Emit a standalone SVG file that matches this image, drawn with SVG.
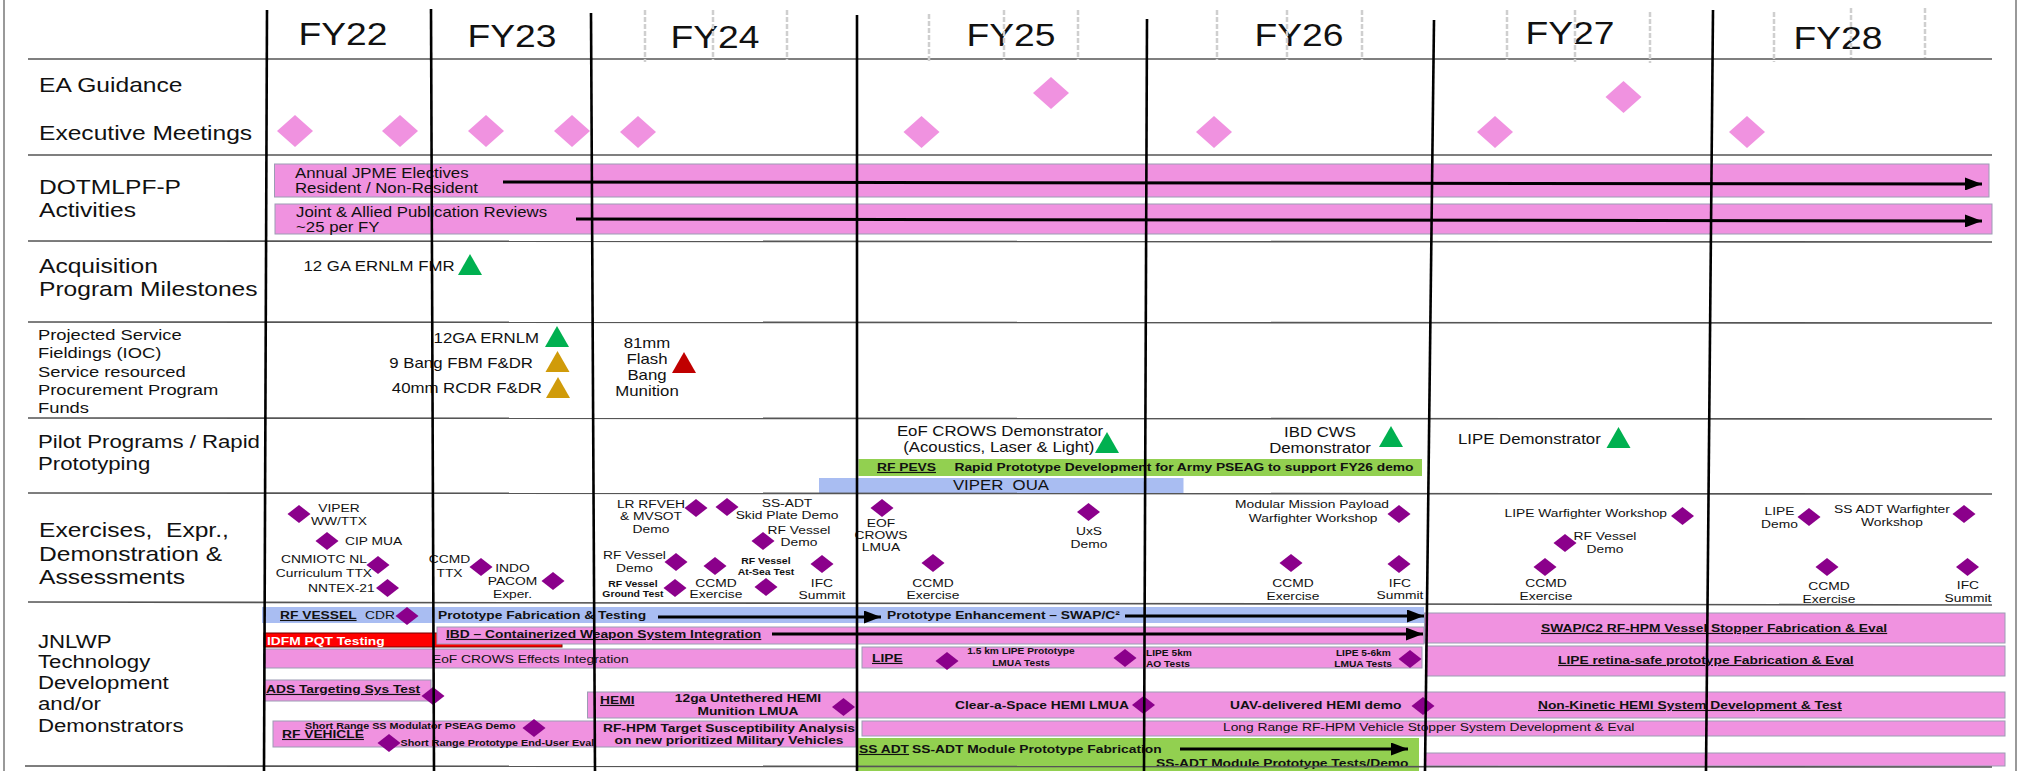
<svg xmlns="http://www.w3.org/2000/svg" width="2021" height="771" viewBox="0 0 2021 771">
<style>
text{font-family:"Liberation Sans",Arial,Helvetica,sans-serif;fill:#111;transform-box:fill-box;transform:scaleX(1.2);transform-origin:0 0}
.m{text-anchor:middle;transform-origin:50% 0}
.e{text-anchor:end;transform-origin:100% 0}
.fy{font-size:31px}
.lab{font-size:20.5px}
.lab2{font-size:18.5px}
.lab3{font-size:15.3px}
.t14{font-size:14px}
.ex{font-size:11.5px}
.bb{font-size:11.5px;font-weight:bold}
.sm{font-size:8.7px;font-weight:bold}
.tn{font-size:8.5px;font-weight:bold}
.sr{font-size:9px;font-weight:bold}
.u{text-decoration:underline}
.w{fill:#fff}
.pk{fill:#F092E0;stroke:#9c9cb4;stroke-width:1}
.bl{fill:#A9BDF2}
.gr{fill:#92D050}
.rd{fill:#FF0000;stroke:#700;stroke-width:1}
.sep{stroke:#555;stroke-width:1.6;fill:none}
.fyl{stroke:#000;stroke-width:2.6}
.tick{stroke:#cfcfcf;stroke-width:2.5;stroke-dasharray:5 2}
.brd{stroke:#999;stroke-width:2}
.arr{stroke:#000;stroke-width:3;fill:none;marker-end:url(#ah)}
.tg{fill:#00B050}.ty{fill:#D09B0A}.tr{fill:#C00000}
</style>
<defs>
<marker id="ah" markerUnits="userSpaceOnUse" markerWidth="17" markerHeight="13" refX="17" refY="6.5" orient="auto"><path d="M0,0L17,6.5L0,13Z" fill="#000"/></marker>
<path id="dPink" d="M0,-16L18,0L0,16L-18,0Z" fill="#F092E0"/>
<path id="dPur" d="M0,-9L11.5,0L0,9L-11.5,0Z" fill="#8B008B"/>
<path id="tri" d="M0,0L12,21L-12,21Z"/>
</defs>
<rect width="2021" height="771" fill="#fff"/>

<g id="row-labels">
<text class="lab" x="39" y="92">EA Guidance</text>
<text class="lab" x="39" y="140">Executive Meetings</text>
<text class="lab" x="39" y="194">DOTMLPF-P<tspan x="39" y="217">Activities</tspan></text>
<text class="lab" x="39" y="273">Acquisition<tspan x="39" y="296">Program Milestones</tspan></text>
<text class="lab3" x="38" y="340">Projected Service<tspan x="38" y="358.5">Fieldings (IOC)</tspan><tspan x="38" y="377">Service resourced</tspan><tspan x="38" y="395.5">Procurement Program</tspan><tspan x="38" y="413">Funds</tspan></text>
<text class="lab2" x="38" y="448">Pilot Programs / Rapid<tspan x="38" y="470">Prototyping</tspan></text>
<text class="lab" x="39" y="537" xml:space="preserve">Exercises,  Expr.,<tspan x="39" y="561">Demonstration &amp;</tspan><tspan x="39" y="584">Assessments</tspan></text>
<text class="lab2" x="38" y="648">JNLWP<tspan x="38" y="668">Technology</tspan><tspan x="38" y="689">Development</tspan><tspan x="38" y="710">and/or</tspan><tspan x="38" y="732">Demonstrators</tspan></text>
</g>

<g id="fy-labels">
<text class="fy m" x="343" y="45">FY22</text>
<text class="fy m" x="512" y="47">FY23</text>
<text class="fy m" x="715" y="48">FY24</text>
<text class="fy m" x="1011" y="46">FY25</text>
<text class="fy m" x="1299" y="46">FY26</text>
<text class="fy m" x="1570" y="44">FY27</text>
<text class="fy m" x="1838" y="49">FY28</text>
</g>

<g id="ea-guidance">
<use href="#dPink" x="1051" y="93"/>
<use href="#dPink" x="1623.5" y="97"/>
</g>
<g id="exec-meetings">
<use href="#dPink" x="295" y="131"/>
<use href="#dPink" x="400" y="131"/>
<use href="#dPink" x="486" y="131"/>
<use href="#dPink" x="572" y="131"/>
<use href="#dPink" x="638" y="132"/>
<use href="#dPink" x="921.5" y="132"/>
<use href="#dPink" x="1214" y="132"/>
<use href="#dPink" x="1495" y="132"/>
<use href="#dPink" x="1747" y="132"/>
</g>

<g id="jpme">
<rect class="pk" x="274.5" y="164" width="1714.5" height="33"/>
<text class="t14" x="295" y="178">Annual JPME Electives<tspan x="295" y="193">Resident / Non-Resident</tspan></text>
</g>
<g id="pubs">
<rect class="pk" x="275" y="204" width="1717" height="30"/>
<text class="t14" x="296" y="217">Joint &amp; Allied Publication Reviews<tspan x="296" y="232">~25 per FY</tspan></text>
</g>

<g id="acq-12ga">
<text class="t14" x="303.5" y="271">12 GA ERNLM FMR</text>
<use href="#tri" class="tg" x="470" y="254"/>
</g>

<g id="psf-12ga">
<text class="t14 e" x="539" y="343">12GA ERNLM</text>
<use href="#tri" class="tg" x="557" y="326"/>
</g>
<g id="psf-9bang">
<text class="t14 e" x="533" y="368">9 Bang FBM F&amp;DR</text>
<use href="#tri" class="ty" x="557.5" y="351"/>
</g>
<g id="psf-40mm">
<text class="t14 e" x="542" y="393">40mm RCDR F&amp;DR</text>
<use href="#tri" class="ty" x="558" y="377"/>
</g>
<g id="psf-81mm">
<text class="t14 m" x="647" y="348">81mm<tspan x="647" y="364">Flash</tspan><tspan x="647" y="380">Bang</tspan><tspan x="647" y="396">Munition</tspan></text>
<use href="#tri" class="tr" x="684" y="352"/>
</g>

<g id="eof-crows-demo">
<text class="t14 m" x="1000" y="436">EoF CROWS Demonstrator<tspan x="999" y="452">(Acoustics, Laser &amp; Light)</tspan></text>
<use href="#tri" class="tg" x="1107" y="432"/>
</g>
<g id="ibd-cws-demo">
<text class="t14 m" x="1320" y="437">IBD CWS<tspan x="1320" y="453">Demonstrator</tspan></text>
<use href="#tri" class="tg" x="1391" y="426"/>
</g>
<g id="lipe-demo">
<text class="t14" x="1458" y="444">LIPE Demonstrator</text>
<use href="#tri" class="tg" x="1618.5" y="427"/>
</g>
<g id="rf-pevs">
<rect class="gr" x="858.5" y="459" width="563.5" height="17"/>
<text class="bb u" x="877" y="471">RF PEVS</text>
<text class="bb" x="954.5" y="471">Rapid Prototype Development for Army PSEAG to support FY26 demo</text>
</g>
<g id="viper-oua">
<rect class="bl" x="819" y="478" width="364.5" height="16"/>
<text class="t14 m" x="1001" y="490" xml:space="preserve">VIPER  OUA</text>
</g>

<g id="ex-viper"><use href="#dPur" x="299" y="514"/><text class="ex m" x="339" y="512">VIPER<tspan x="339" y="525">WW/TTX</tspan></text></g>
<g id="ex-cip"><use href="#dPur" x="327" y="541"/><text class="ex" x="345" y="545">CIP MUA</text></g>
<g id="ex-cnmiotc"><text class="ex m" x="324" y="563">CNMIOTC NL<tspan x="324" y="577">Curriculum TTX</tspan></text><use href="#dPur" x="378" y="565"/></g>
<g id="ex-nntex"><text class="ex" x="308" y="592">NNTEX-21</text><use href="#dPur" x="387.5" y="588"/></g>
<g id="ex-ccmd-ttx"><text class="ex m" x="449.5" y="563">CCMD<tspan x="449.5" y="577">TTX</tspan></text><use href="#dPur" x="481" y="567"/></g>
<g id="ex-indo"><text class="ex m" x="512.5" y="572">INDO<tspan x="512.5" y="585">PACOM</tspan><tspan x="512.5" y="598">Exper.</tspan></text><use href="#dPur" x="553" y="581"/></g>
<g id="ex-lr-rfveh"><text class="ex m" x="651" y="508">LR RFVEH<tspan x="651" y="520">&amp; MVSOT</tspan><tspan x="651" y="533">Demo</tspan></text><use href="#dPur" x="696" y="508"/></g>
<g id="ex-ssadt-skid"><use href="#dPur" x="727" y="507"/><text class="ex m" x="787" y="507">SS-ADT<tspan x="787" y="519">Skid Plate Demo</tspan></text></g>
<g id="ex-rfv-demo1"><use href="#dPur" x="763" y="541"/><text class="ex m" x="799" y="534">RF Vessel<tspan x="799" y="546">Demo</tspan></text></g>
<g id="ex-rfv-demo2"><text class="ex m" x="634.5" y="559">RF Vessel<tspan x="634.5" y="572">Demo</tspan></text><use href="#dPur" x="676" y="562"/></g>
<g id="ex-rfv-ground"><text class="sm m" x="633" y="587">RF Vessel<tspan x="633" y="597">Ground Test</tspan></text><use href="#dPur" x="675" y="588"/></g>
<g id="ex-ccmd24"><use href="#dPur" x="715" y="566"/><text class="ex m" x="716" y="587">CCMD<tspan x="716" y="598">Exercise</tspan></text></g>
<g id="ex-rfv-atsea"><text class="sm m" x="766" y="564">RF Vessel<tspan x="766" y="575">At-Sea Test</tspan></text><use href="#dPur" x="766" y="587"/></g>
<g id="ex-ifc24"><use href="#dPur" x="822" y="564"/><text class="ex m" x="822" y="587">IFC<tspan x="822" y="599">Summit</tspan></text></g>
<g id="ex-eof-lmua"><use href="#dPur" x="882" y="508"/><text class="ex m" x="881" y="527">EOF<tspan x="881" y="539">CROWS</tspan><tspan x="881" y="551">LMUA</tspan></text></g>
<g id="ex-ccmd25"><use href="#dPur" x="933" y="563"/><text class="ex m" x="933" y="587">CCMD<tspan x="933" y="599">Exercise</tspan></text></g>
<g id="ex-uxs"><use href="#dPur" x="1088.5" y="512"/><text class="ex m" x="1089" y="535">UxS<tspan x="1089" y="548">Demo</tspan></text></g>
<g id="ex-modular"><text class="ex m" x="1312" y="508">Modular Mission Payload<tspan x="1313" y="522">Warfighter Workshop</tspan></text><use href="#dPur" x="1399" y="514"/></g>
<g id="ex-ccmd26"><use href="#dPur" x="1291" y="563"/><text class="ex m" x="1293" y="587">CCMD<tspan x="1293" y="600">Exercise</tspan></text></g>
<g id="ex-ifc26"><use href="#dPur" x="1399" y="564"/><text class="ex m" x="1400" y="587">IFC<tspan x="1400" y="599">Summit</tspan></text></g>
<g id="ex-lipe-ww"><text class="ex e" x="1667" y="517">LIPE Warfighter Workshop</text><use href="#dPur" x="1682.5" y="516"/></g>
<g id="ex-rfv-demo27"><use href="#dPur" x="1565" y="543"/><text class="ex m" x="1605" y="540">RF Vessel<tspan x="1605" y="553">Demo</tspan></text></g>
<g id="ex-ccmd27"><use href="#dPur" x="1545" y="567"/><text class="ex m" x="1546" y="587">CCMD<tspan x="1546" y="600">Exercise</tspan></text></g>
<g id="ex-lipe-demo"><text class="ex m" x="1779.5" y="515">LIPE<tspan x="1779.5" y="528">Demo</tspan></text><use href="#dPur" x="1809" y="517"/></g>
<g id="ex-ssadt-ww"><text class="ex m" x="1892" y="513">SS ADT Warfighter<tspan x="1892" y="526">Workshop</tspan></text><use href="#dPur" x="1964" y="514"/></g>
<g id="ex-ccmd28"><use href="#dPur" x="1827" y="567"/><text class="ex m" x="1829" y="590">CCMD<tspan x="1829" y="603">Exercise</tspan></text></g>
<g id="ex-ifc28"><use href="#dPur" x="1967.5" y="567"/><text class="ex m" x="1968" y="589">IFC<tspan x="1968" y="602">Summit</tspan></text></g>

<g id="rf-vessel">
<rect class="bl" x="262" y="607" width="1162" height="16"/>
<text class="bb u" x="280" y="619">RF VESSEL</text>
<text class="ex" x="365" y="619">CDR</text>
<use href="#dPur" x="407" y="616"/>
<text class="bb" x="438" y="619">Prototype Fabrication &amp; Testing</text>
<text class="bb" x="887" y="619">Prototype Enhancement – SWAP/C²</text>
</g>
<g id="idfm">
<rect class="rd" x="264" y="633" width="298" height="14"/>
<text class="bb w" x="267" y="645">IDFM PQT Testing</text>
</g>
<g id="ibd">
<rect class="pk" x="437" y="627" width="987" height="17"/>
<text class="bb u" x="446" y="638">IBD – Containerized Weapon System Integration</text>
</g>
<g id="eof-effects">
<rect class="pk" x="263.5" y="649" width="592.5" height="19"/>
<text class="ex" x="432" y="663">EoF CROWS Effects Integration</text>
</g>
<g id="lipe">
<rect class="pk" x="862" y="647" width="560" height="21"/>
<text class="bb u" x="872" y="662">LIPE</text>
<use href="#dPur" x="947" y="661"/>
<text class="tn m" x="1021" y="654">1.5 km LIPE Prototype<tspan x="1021" y="666">LMUA Tests</tspan></text>
<use href="#dPur" x="1125" y="658"/>
<text class="tn" x="1146" y="656">LIPE 5km<tspan x="1146" y="667">AO Tests</tspan></text>
<text class="tn e" x="1391" y="656">LIPE 5-6km<tspan x="1392" y="667">LMUA Tests</tspan></text>
<use href="#dPur" x="1410" y="659"/>
</g>
<g id="swap-c2">
<rect class="pk" x="1424.5" y="613" width="580.5" height="30"/>
<text class="bb u" x="1541" y="632">SWAP/C2 RF-HPM Vessel Stopper Fabrication &amp; Eval</text>
</g>
<g id="lipe-retina">
<rect class="pk" x="1425.5" y="646" width="579.5" height="30"/>
<text class="bb u" x="1558" y="664">LIPE retina-safe prototype Fabrication &amp; Eval</text>
</g>
<g id="ads">
<rect class="pk" x="264" y="680" width="167" height="21"/>
<text class="bb u" x="266" y="693">ADS Targeting Sys Test</text>
<use href="#dPur" x="433" y="696"/>
</g>
<g id="hemi">
<rect class="pk" x="587.5" y="692" width="1417.5" height="26"/>
<text class="bb u" x="600" y="704">HEMI</text>
<text class="bb m" x="748" y="702">12ga Untethered HEMI<tspan x="748" y="715">Munition LMUA</tspan></text>
<use href="#dPur" x="843.5" y="707"/>
<text class="bb" x="955" y="709">Clear-a-Space HEMI LMUA</text>
<use href="#dPur" x="1143.5" y="705"/>
<text class="bb" x="1230" y="709">UAV-delivered HEMI demo</text>
<use href="#dPur" x="1423" y="706"/>
<text class="bb u" x="1538" y="709">Non-Kinetic HEMI System Development &amp; Test</text>
</g>
<g id="long-range">
<rect class="pk" x="862" y="721" width="1143" height="15"/>
<text class="ex" x="1223" y="731">Long Range RF-HPM Vehicle Stopper System Development &amp; Eval</text>
</g>
<g id="rf-vehicle">
<rect class="pk" x="273" y="721" width="583" height="26"/>
<text class="bb u" x="282" y="738">RF VEHICLE</text>
<text class="sr" x="305" y="729">Short Range SS Modulator PSEAG Demo</text>
<use href="#dPur" x="534" y="728"/>
<use href="#dPur" x="389" y="743"/>
<text class="sr" x="400.5" y="746">Short Range Prototype End-User Eval</text>
<text class="bb m" x="729" y="732">RF-HPM Target Susceptibility Analysis<tspan x="729" y="744">on new prioritized Military Vehicles</tspan></text>
</g>
<g id="ss-adt">
<rect class="gr" x="858" y="738" width="561" height="33"/>
<text class="bb u" x="859" y="753">SS ADT</text>
<text class="bb" x="912" y="753">SS-ADT Module Prototype Fabrication</text>
<text class="bb" x="1156" y="767">SS-ADT Module Prototype Tests/Demo</text>
</g>
<g id="ss-adt-next">
<rect class="pk" x="1424.5" y="753" width="580.5" height="13"/>
</g>

<g id="grid">
<line class="brd" x1="4" y1="0" x2="4" y2="771"/>
<line class="brd" x1="2016" y1="0" x2="2016" y2="771"/>
<line class="sep" x1="28" y1="59" x2="1992" y2="59"/>
<line class="sep" x1="28" y1="155" x2="1992" y2="155"/>
<line class="sep" x1="28" y1="241" x2="1992" y2="242"/>
<line class="sep" x1="28" y1="322" x2="1992" y2="323"/>
<line class="sep" x1="28" y1="418" x2="1992" y2="419"/>
<line class="sep" x1="28" y1="493" x2="1992" y2="494"/>
<line class="sep" x1="28" y1="602" x2="1992" y2="605"/>
<line class="sep" x1="25" y1="766" x2="1992" y2="767"/>
<line class="tick" x1="645" y1="10" x2="645" y2="62"/>
<line class="tick" x1="713" y1="10" x2="713" y2="60"/>
<line class="tick" x1="787" y1="10" x2="787" y2="60"/>
<line class="tick" x1="929" y1="14" x2="929" y2="63"/>
<line class="tick" x1="1004" y1="10" x2="1004" y2="60"/>
<line class="tick" x1="1078" y1="10" x2="1078" y2="60"/>
<line class="tick" x1="1217" y1="10" x2="1217" y2="60"/>
<line class="tick" x1="1287" y1="10" x2="1287" y2="60"/>
<line class="tick" x1="1362" y1="10" x2="1362" y2="60"/>
<line class="tick" x1="1507" y1="10" x2="1507" y2="60"/>
<line class="tick" x1="1575" y1="10" x2="1575" y2="62"/>
<line class="tick" x1="1650" y1="12" x2="1650" y2="63"/>
<line class="tick" x1="1774" y1="12" x2="1774" y2="62"/>
<line class="tick" x1="1851" y1="8" x2="1851" y2="58"/>
<line class="tick" x1="1925" y1="8" x2="1925" y2="58"/>
<line class="fyl" x1="267" y1="10" x2="264" y2="771"/>
<line class="fyl" x1="431" y1="9" x2="434" y2="771"/>
<line class="fyl" x1="591" y1="13" x2="595" y2="771"/>
<line class="fyl" x1="857" y1="15" x2="857" y2="771"/>
<line class="fyl" x1="1147" y1="19" x2="1144" y2="771"/>
<line class="fyl" x1="1434" y1="20" x2="1425" y2="771"/>
<line class="fyl" x1="1713" y1="10" x2="1706" y2="771"/>
</g>

<g id="connectors">
<line class="arr" x1="503" y1="182" x2="1982" y2="184"/>
<line class="arr" x1="576" y1="219" x2="1982" y2="221"/>
<line class="arr" x1="658" y1="617" x2="881" y2="617"/>
<line class="arr" x1="1125" y1="616" x2="1424" y2="616"/>
<line class="arr" x1="772" y1="634" x2="1423" y2="634"/>
<line class="arr" x1="1180" y1="749" x2="1408" y2="749"/>
</g>
</svg>
